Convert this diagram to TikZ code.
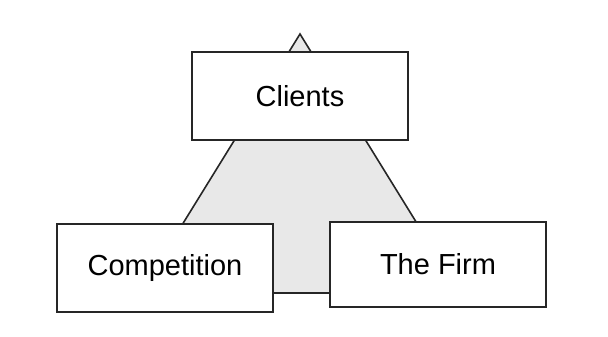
\documentclass[tikz,border=0pt]{standalone}
\usepackage{fontspec}
\setmainfont{Liberation Sans}
\begin{document}
\begin{tikzpicture}[x=1pt,y=-1pt,
  boxstyle/.style={draw=black!85,line width=1.8pt,fill=white,minimum width=216pt,inner sep=0pt,font=\fontsize{29}{32}\selectfont},
  tri/.style={draw=black!85,line width=1.6pt,fill=black!9}]
\useasboundingbox (0,0) rectangle (608,337);
\coordinate (apex) at (300,34);
\coordinate (bl) at (140,293);
\coordinate (br) at (460,293);
\filldraw[tri] (apex) -- (bl) -- (br) -- cycle;
\node[boxstyle,minimum height=88pt] (clients) at (300,96) {Clients};
\node[boxstyle,minimum height=88pt] (comp) at (165,268) {Competition};
\node[boxstyle,minimum height=85pt] (firm) at (438,264.5) {The Firm};
\end{tikzpicture}
\end{document}
